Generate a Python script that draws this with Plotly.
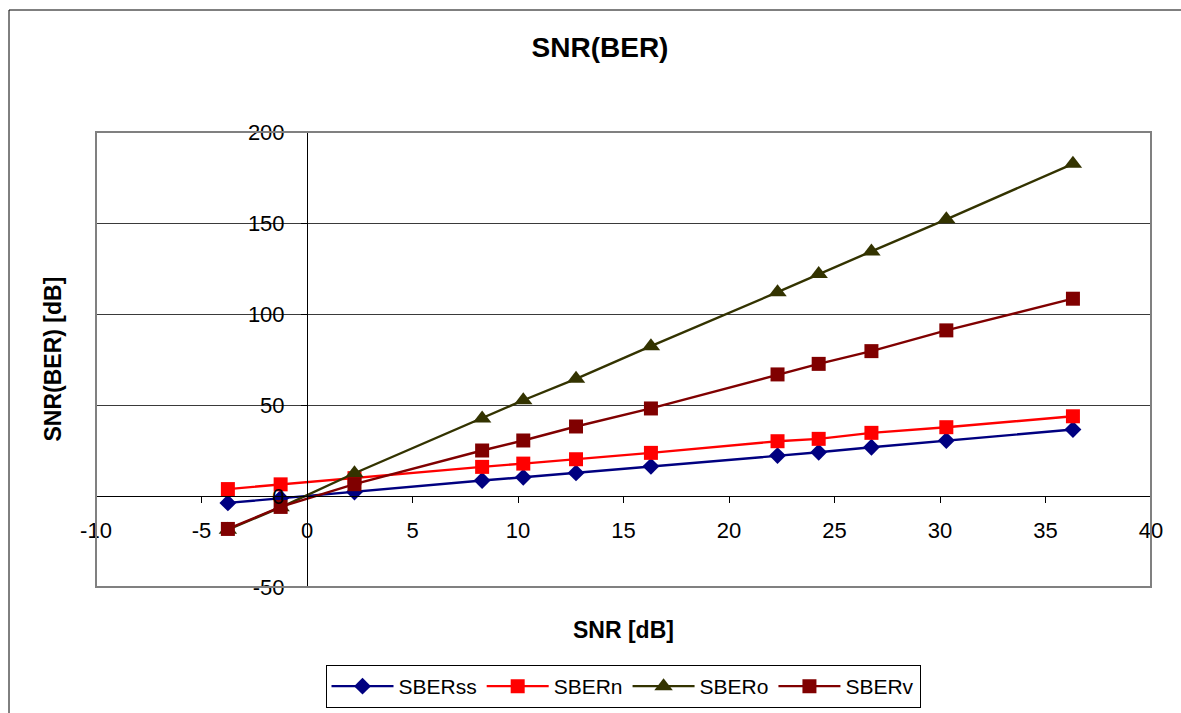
import plotly.graph_objects as go

# SNR values (dB) shared by all series
snr = [-3.75, -1.25, 2.25, 8.3, 10.25, 12.75, 16.3, 22.3, 24.25, 26.75, 30.3, 36.3]

# SNR(BER) per scheme (dB)
sber_ss = [-3.8, -1.2, 2.2, 8.5, 10.3, 12.7, 16.3, 22.2, 24.0, 26.8, 30.5, 36.5]
sber_n = [3.8, 6.4, 9.8, 16.0, 17.8, 20.2, 23.7, 30.1, 31.4, 34.7, 37.8, 43.8]
sber_o = [-18.5, -6.2, 12.5, 42.6, 52.6, 64.4, 82.3, 112.0, 122.0, 134.4, 152.0, 182.5]
sber_v = [-18.1, -6.0, 6.5, 25.0, 30.5, 38.2, 48.1, 66.8, 72.6, 79.6, 91.0, 108.4]

# axis ticks (labels use a plain hyphen for negatives)
x_ticks = [-10, -5, 0, 5, 10, 15, 20, 25, 30, 35, 40]
x_tick_text = ["-10", "-5", "0", "5", "10", "15", "20", "25", "30", "35", "40"]
y_ticks = [-50, 0, 50, 100, 150, 200]
y_tick_text = ["-50", "0", "50", "100", "150", "200"]

series = [
    ("SBERss", sber_ss, "#000080", "diamond", 13),
    ("SBERn", sber_n, "#FF0000", "square", 14),
    ("SBERo", sber_o, "#333300", "triangle-up", 16),
    ("SBERv", sber_v, "#800000", "square", 14),
]

FONT = "Liberation Sans, Arial, sans-serif"

fig = go.Figure()
for name, vals, color, symbol, size in series:
    fig.add_trace(go.Scatter(
        x=snr, y=vals, name=name, mode="lines+markers",
        line=dict(color=color, width=2.4),
        marker=dict(symbol=symbol, size=size, color=color, line=dict(width=0)),
    ))

fig.update_layout(
    width=1181, height=713,
    margin=dict(l=96, r=30, t=132, b=126, autoexpand=False),
    paper_bgcolor="white", plot_bgcolor="white",
    font=dict(family=FONT, size=22, color="black"),
    title=dict(text="<b>SNR(BER)</b>", font=dict(size=28, family=FONT, color="black"),
               x=600 / 1181, xanchor="center", y=1 - 47 / 713, yanchor="middle",
               xref="container", yref="container"),
    showlegend=True,
    legend=dict(orientation="h", x=(623 - 96) / 1055, xanchor="center",
                y=(587 - 708) / 455, yanchor="bottom",
                bordercolor="black", borderwidth=1, bgcolor="white",
                font=dict(size=21, family=FONT), itemwidth=62,
                tracegroupgap=0),
    # axes cross each other at zero (position = paper fraction of the zero point)
    xaxis=dict(range=[-10, 40], tickvals=x_ticks, ticktext=x_tick_text,
               anchor="free", position=0.2,
               showgrid=False, zeroline=False, showline=True, linecolor="black",
               linewidth=1, ticks="outside", ticklen=6, tickcolor="black",
               ticklabelstandoff=9, tickfont=dict(size=22)),
    yaxis=dict(range=[-50, 200], tickvals=y_ticks, ticktext=y_tick_text,
               anchor="free", position=0.2, side="left",
               showgrid=True, gridcolor="#3a3a3a", gridwidth=1, zeroline=False,
               showline=True, linecolor="black", linewidth=1, ticks="outside",
               ticklen=6, tickcolor="black", ticklabelstandoff=12,
               tickfont=dict(size=22)),
)

# plot-area frame and outer chart frame
fig.add_shape(type="rect", xref="paper", yref="paper", x0=0, x1=1, y0=0, y1=1,
              line=dict(color="#808080", width=2), layer="above")
fig.add_shape(type="rect", xref="paper", yref="paper",
              x0=(9 - 96) / 1055, x1=(1200 - 96) / 1055,
              y0=(587 - 730) / 455, y1=(587 - 10) / 455,
              line=dict(color="black", width=1), layer="below")

# axis titles
fig.add_annotation(text="<b>SNR [dB]</b>", xref="paper", yref="paper",
                   x=0.5, y=(587 - 630) / 455, showarrow=False,
                   xanchor="center", yanchor="middle", font=dict(size=23))
fig.add_annotation(text="<b>SNR(BER) [dB]</b>", xref="paper", yref="paper",
                   x=(52 - 96) / 1055, y=0.5, textangle=-90, showarrow=False,
                   xanchor="center", yanchor="middle", font=dict(size=23))

fig.write_html("out.html")
